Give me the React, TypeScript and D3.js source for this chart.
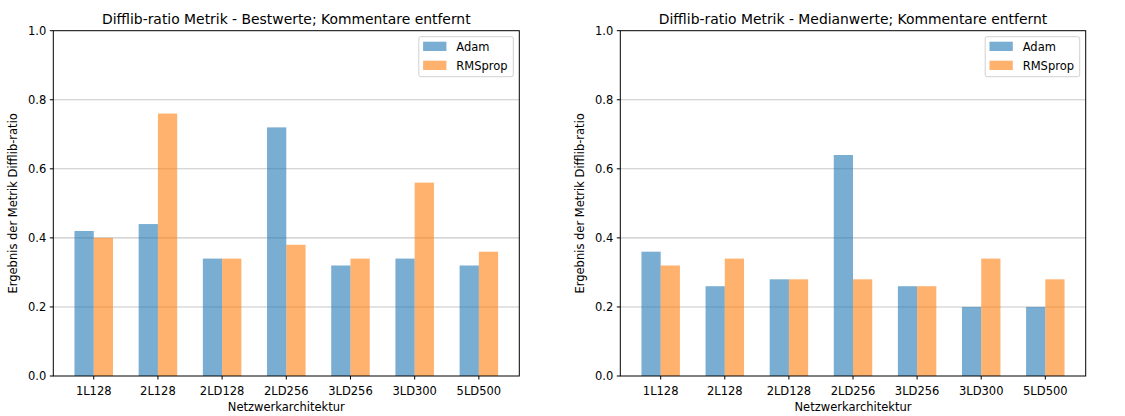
import React from 'react';
import * as d3 from 'd3';

const width = 1125;
const height = 416;

// data ===========================================
const categories = ['1L128', '2L128', '2LD128', '2LD256', '3LD256', '3LD300', '5LD500'];
const seriesNames = ['Adam', 'RMSprop'];
const yTicks = [0, 0.2, 0.4, 0.6, 0.8, 1.0];

// Bestwerte
const bestAdam = [0.42, 0.44, 0.34, 0.72, 0.32, 0.34, 0.32];
const bestRms = [0.40, 0.76, 0.34, 0.38, 0.34, 0.56, 0.36];

// Medianwerte
const medianAdam = [0.36, 0.26, 0.28, 0.64, 0.26, 0.20, 0.20];
const medianRms = [0.32, 0.34, 0.28, 0.28, 0.26, 0.34, 0.28];

const colors = ['#1f77b4', '#ff7f0e'];
const font = 'DejaVu Sans, sans-serif';
const tickSize = 11.5;

const barWidth = 0.3;

const Panel = ({ title, adam, rms, left, right }) => {
  const top = 30.7;
  const bottom = 376;

  // x: index of category, matplotlib-like 5% margins
  const xScale = d3
    .scaleLinear()
    .domain([-barWidth - 0.33, categories.length - 1 + barWidth + 0.33])
    .range([left, right]);

  const yScale = d3.scaleLinear().domain([0, 1]).range([bottom, top]);

  const bw = xScale(barWidth) - xScale(0);
  const series = [adam, rms];

  return (
    <g>
      {/* grid */}
      {yTicks.filter(t => t > 0 && t < 1).map(t => (
        <line key={t} x1={left} x2={right} y1={yScale(t)} y2={yScale(t)} stroke="#b0b0b0" strokeOpacity={0.7} strokeWidth={1.1} />
      ))}

      {/* bars */}
      {series.map((vals, s) =>
        vals.map((v, i) => (
          <rect
            key={`${s}-${i}`}
            x={s === 0 ? xScale(i) - bw : xScale(i)}
            y={yScale(v)}
            width={bw}
            height={bottom - yScale(v)}
            fill={colors[s]}
            fillOpacity={0.6}
          />
        ))
      )}

      {/* spines */}
      <rect x={left} y={top} width={right - left} height={bottom - top} fill="none" stroke="#000" strokeWidth={1} />

      {/* y axis */}
      {yTicks.map(t => (
        <g key={t}>
          <line x1={left - 3.5} x2={left} y1={yScale(t)} y2={yScale(t)} stroke="#000" />
          <text x={left - 7} y={yScale(t)} dy="0.35em" textAnchor="end" fontSize={tickSize} fontFamily={font} fill="#000">
            {t.toFixed(1)}
          </text>
        </g>
      ))}

      {/* x axis */}
      {categories.map((c, i) => (
        <g key={c}>
          <line x1={xScale(i)} x2={xScale(i)} y1={bottom} y2={bottom + 3.5} stroke="#000" />
          <text x={xScale(i)} y={bottom + 18.5} textAnchor="middle" fontSize={tickSize} fontFamily={font} fill="#000">
            {c}
          </text>
        </g>
      ))}

      <text x={(left + right) / 2} y={bottom + 35} textAnchor="middle" fontSize={tickSize} fontFamily={font}>
        Netzwerkarchitektur
      </text>
      <text
        transform={`translate(${left - 36}, ${(top + bottom) / 2}) rotate(-90)`}
        textAnchor="middle"
        fontSize={tickSize}
        fontFamily={font}
      >
        Ergebnis der Metrik Difflib-ratio
      </text>

      <text x={(left + right) / 2} y={top - 7} textAnchor="middle" fontSize={13.9} fontFamily={font}>
        {title}
      </text>

      {/* legend */}
      <g transform={`translate(${right - 100.5}, 36.7)`}>
        <rect x={0} y={0} width={94.5} height={40} rx={2} fill="#fff" fillOpacity={0.8} stroke="#d0d0d0" />
        {seriesNames.map((n, i) => (
          <g key={n} transform={`translate(0, ${i * 19})`}>
            <rect x={4.3} y={5} width={23.3} height={9.3} fill={colors[i]} fillOpacity={0.6} />
            <text x={37.5} y={14} fontSize={tickSize} fontFamily={font}>{n}</text>
          </g>
        ))}
      </g>
    </g>
  );
};

const App = () => {
  return (
    <svg width={width} height={height} style={{ position: 'absolute', left: 0, top: 0, background: '#fff' }}>
      <Panel title="Difflib-ratio Metrik - Bestwerte; Kommentare entfernt" adam={bestAdam} rms={bestRms} left={53.3} right={519.3} />
      <Panel title="Difflib-ratio Metrik - Medianwerte; Kommentare entfernt" adam={medianAdam} rms={medianRms} left={620.3} right={1085.7} />
    </svg>
  );
};

export default App;
